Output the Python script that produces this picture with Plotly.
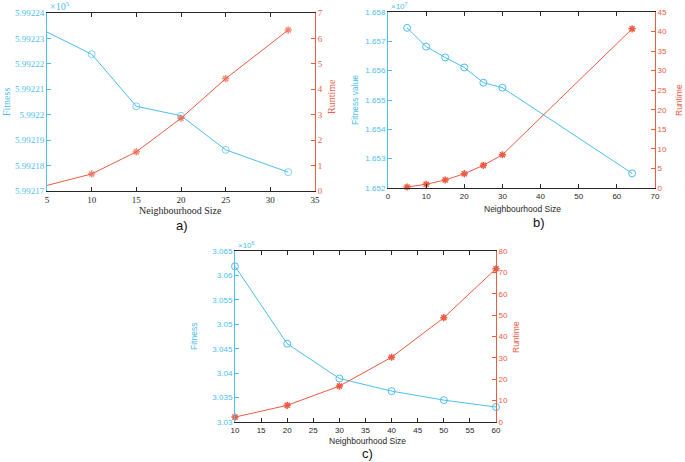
import plotly.graph_objects as go

# ---------------- data ----------------
# a)
a_size = [5, 10, 15, 20, 25, 32]
a_fitness = [599223.25, 599222.38, 599220.33, 599219.96, 599218.62, 599217.74]
a_runtime = [0.22, 0.67, 1.54, 2.86, 4.42, 6.33]
# b)
b_size = [5, 10, 15, 20, 25, 30, 64]
b_fitness = [16574600, 16568200, 16564500, 16561100, 16555900, 16554200, 16525000]
b_runtime = [0.25, 0.95, 2.05, 3.65, 5.8, 8.5, 40.7]
# c)
c_size = [10, 20, 30, 40, 50, 60]
c_fitness = [3061860, 3046030, 3038900, 3036320, 3034480, 3033060]
c_runtime = [2.3, 7.8, 16.8, 30.3, 48.8, 71.7]

CYAN = "#4DBEEE"
RED = "#EC5B43"
GRAY = "#262626"
W, H = 685, 462

def px(x):
    return x / W

def py(y):
    return 1 - y / H

fig = go.Figure()

def add_panel(idx, xs, fit, rt, scale, mk_sizes_f, mk_sizes_r):
    xa = "x" if idx == 1 else f"x{idx}"
    yl = "y" if idx == 1 else f"y{2*idx-1}"
    yr = f"y{2*idx}"
    fig.add_trace(go.Scatter(x=xs, y=[v / scale for v in fit], xaxis=xa, yaxis=yl,
                             mode="lines+markers", line=dict(color=CYAN, width=1),
                             marker=dict(symbol="circle-open", size=mk_sizes_f, color=CYAN,
                                         line=dict(width=1, color=CYAN)),
                             cliponaxis=False, showlegend=False))
    fig.add_trace(go.Scatter(x=xs, y=rt, xaxis=xa, yaxis=yr,
                             mode="lines+markers", line=dict(color=RED, width=1),
                             marker=dict(symbol="asterisk-open", size=mk_sizes_r, color=RED,
                                         line=dict(width=1.5, color=RED)),
                             cliponaxis=False, showlegend=False))

add_panel(1, a_size, a_fitness, a_runtime, 1e5, [0] + [7] * 5, [0] + [6] * 5)
add_panel(2, b_size, b_fitness, b_runtime, 1e7, 7, 6)
add_panel(3, c_size, c_fitness, c_runtime, 1e6, 7, 6)

def ticks(lo, hi, step):
    n = int(round((hi - lo) / step))
    vals = [round(lo + i * step, 8) for i in range(n + 1)]
    return vals, [f"{v:.6g}" for v in vals]

serif = "Liberation Serif, Times New Roman, serif"
sans = "Liberation Sans, Arial, sans-serif"

panels = [
    # idx, xdomain, ydomain, xrange, xdtick, lrange, lstep, rrange, rstep, font, tick size
    (1, [px(47), px(315)], [py(191), py(13)], [5, 35], 5, [5.99217, 5.99224], 0.00001, [0, 7], 1, serif, 9),
    (2, [px(388), px(655)], [py(188), py(12)], [0, 70], 10, [1.652, 1.658], 0.001, [0, 45], 5, sans, 8),
    (3, [px(235), px(496)], [py(422), py(251)], [10, 60], 5, [3.03, 3.065], 0.005, [0, 80], 10, sans, 8),
]

layout = {}
for (idx, xd, yd, xr, xdt, lr, ls, rr, rs, fam, fs) in panels:
    xk = "xaxis" if idx == 1 else f"xaxis{idx}"
    ylk = "yaxis" if idx == 1 else f"yaxis{2*idx-1}"
    yrk = f"yaxis{2*idx}"
    yl_id = "y" if idx == 1 else f"y{2*idx-1}"
    x_id = "x" if idx == 1 else f"x{idx}"
    lv, lt = ticks(lr[0], lr[1], ls)
    rv, rt = ticks(rr[0], rr[1], rs)
    layout[xk] = dict(domain=xd, range=xr, dtick=xdt, tick0=0, anchor=yl_id, automargin=False,
                      showline=True, linecolor=GRAY, linewidth=1, mirror="ticks",
                      ticks="inside", ticklen=4, tickcolor=GRAY, showgrid=False, zeroline=False,
                      tickfont=dict(family=fam, size=fs, color=GRAY))
    layout[ylk] = dict(domain=yd, range=lr, tickvals=lv, ticktext=lt, anchor=x_id, automargin=False,
                       showline=True, linecolor=CYAN, linewidth=1, ticks="inside", ticklen=4,
                       tickcolor=CYAN, showgrid=False, zeroline=False,
                       tickfont=dict(family=fam, size=fs, color=CYAN))
    layout[yrk] = dict(domain=yd, range=rr, tickvals=rv, ticktext=rt, anchor=x_id, automargin=False,
                       overlaying=yl_id, side="right",
                       showline=True, linecolor=RED, linewidth=1, ticks="inside", ticklen=4,
                       tickcolor=RED, showgrid=False, zeroline=False,
                       tickfont=dict(family=fam, size=fs, color=RED))

fig.update_layout(**layout)

# exponent labels
annots = [
    dict(x=px(48), y=py(14), text="×10<sup>5</sup>", font=dict(family=serif, size=10, color=CYAN)),
    dict(x=px(389), y=py(13), text="×10<sup>7</sup>", font=dict(family=sans, size=8, color=CYAN)),
    dict(x=px(236), y=py(252), text="×10<sup>6</sup>", font=dict(family=sans, size=8, color=CYAN)),
]
for a in annots:
    fig.add_annotation(xref="paper", yref="paper", xanchor="left", yanchor="bottom",
                       showarrow=False, **a)

# axis titles (text, x, y, angle, color, family, size)
titles = [
    ("Fitness", 7, 102, -90, CYAN, serif, 10),
    ("Runtime", 332, 97, -90, RED, serif, 10),
    ("Neighbourhood Size", 180, 210, 0, GRAY, serif, 10),
    ("Fitness value", 355, 100, -90, CYAN, sans, 8.5),
    ("Runtime", 679, 100, -90, RED, sans, 8.5),
    ("Neighbourhood Size", 522, 209, 0, GRAY, sans, 8.5),
    ("Fitness", 194, 337, -90, CYAN, sans, 8.5),
    ("Runtime", 516, 337, -90, RED, sans, 8.5),
    ("Neighbourhood Size", 367, 441, 0, GRAY, sans, 8.5),
]
for t, x, y, ang, col, fam, sz in titles:
    fig.add_annotation(xref="paper", yref="paper", x=px(x), y=py(y), text=t, textangle=ang,
                       showarrow=False, xanchor="center", yanchor="middle",
                       font=dict(family=fam, size=sz, color=col))

labels = [
    ("a)", 182, 225),
    ("b)", 539, 222),
    ("c)", 367, 453),
]
for t, x, y in labels:
    fig.add_annotation(xref="paper", yref="paper", x=px(x), y=py(y), text=t, showarrow=False,
                       xanchor="center", yanchor="middle",
                       font=dict(family=sans, size=13, color="#111111"))

fig.update_layout(width=W, height=H, margin=dict(l=0, r=0, t=0, b=0),
                  paper_bgcolor="white", plot_bgcolor="white")

fig.write_html("out.html", config={"displayModeBar": False},
               post_script="document.body.style.margin='0';document.body.style.padding='0';")
